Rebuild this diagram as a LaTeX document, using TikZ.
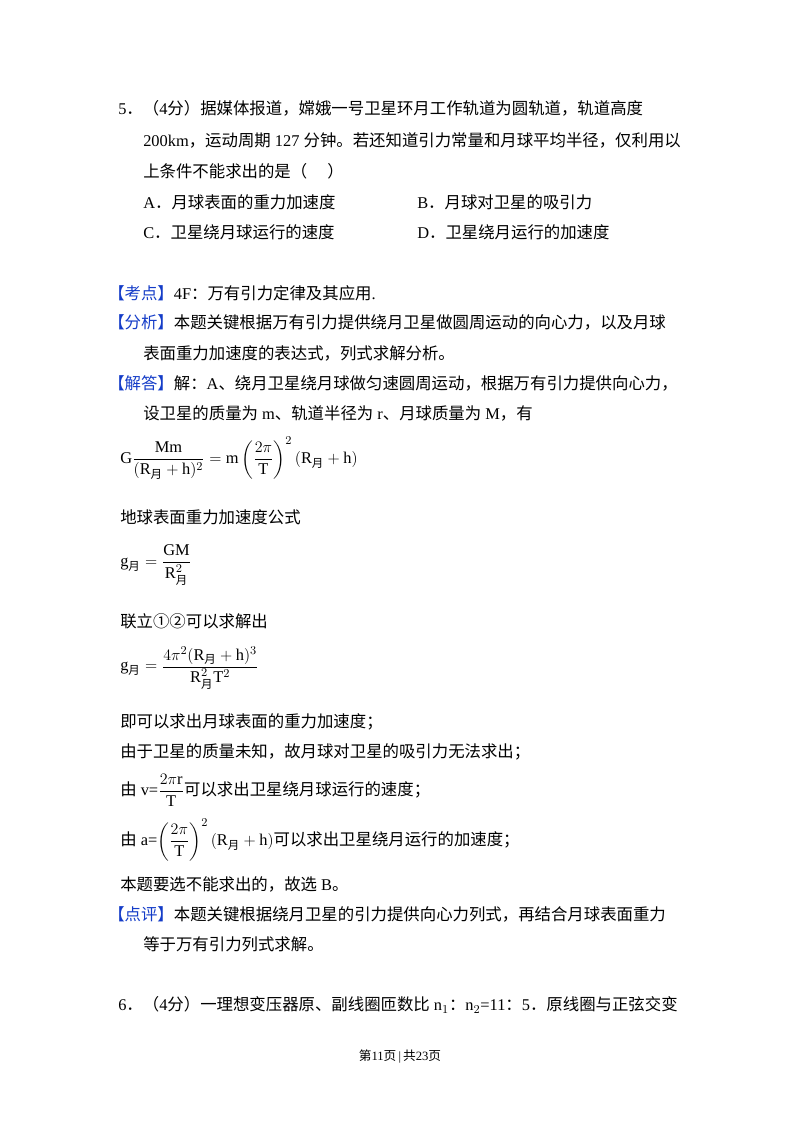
\documentclass[tikz,border=0pt]{standalone}
\usepackage{amsmath}
\usepackage{fontspec}
\setmainfont{Liberation Serif}
\newfontfamily\cn{Noto Sans CJK SC}
\definecolor{kb}{RGB}{20,60,200}
\newcommand{\yue}{\text{\cn 月}}
\newcommand{\kd}[1]{{\color{kb}\cn 【#1】}}
\begin{document}
\begin{tikzpicture}[x=0.75pt,y=-0.75pt,
  t/.style={anchor=west,inner sep=0pt,font=\fontsize{12.3}{14}\selectfont}]
\useasboundingbox[fill=white] (0,0) rectangle (800,1132);
\node[t] (l1) at (118,108) {5{\cn ．（}4{\cn 分）据媒体报道，嫦娥一号卫星环月工作轨道为圆轨道，轨道高度}};
\node[t] (l2) at (143,140) {200km{\cn ，运动周期} 127 {\cn 分钟。若还知道引力常量和月球平均半径，仅利用以}};
\node[t] (l3) at (143,171) {\cn 上条件不能求出的是（\quad\ ）};
\node[t] (a) at (143,202) {A{\cn ．月球表面的重力加速度}};
\node[t] (b) at (417,202) {B{\cn ．月球对卫星的吸引力}};
\node[t] (c) at (143,232) {C{\cn ．卫星绕月球运行的速度}};
\node[t] (d) at (417,232) {D{\cn ．卫星绕月运行的加速度}};
\node[t] (k1) at (108,293) {\kd{考点}4F{\cn ：万有引力定律及其应用}.};
\node[t] (k2) at (108,322) {\kd{分析}{\cn 本题关键根据万有引力提供绕月卫星做圆周运动的向心力，以及月球}};
\node[t] (k3) at (143,353) {\cn 表面重力加速度的表达式，列式求解分析。};
\node[t] (k4) at (108,383) {\kd{解答}{\cn 解：}A{\cn 、绕月卫星绕月球做匀速圆周运动，根据万有引力提供向心力，}};
\node[t] (k5) at (143,413) {{\cn 设卫星的质量为} m{\cn 、轨道半径为} r{\cn 、月球质量为} M{\cn ，有}};
\node[t] (f1) at (120,458) {$\mathrm{G}\dfrac{\mathrm{Mm}}{(\mathrm{R}_{\yue}+\mathrm{h})^{2}}=\mathrm{m}\left(\dfrac{2\pi}{\mathrm{T}}\right)^{2}(\mathrm{R}_{\yue}+\mathrm{h})$};
\node[t] (k6) at (120,517) {\cn 地球表面重力加速度公式};
\node[t] (f2) at (120,565) {$\mathrm{g}_{\yue}=\dfrac{\mathrm{GM}}{\mathrm{R}_{\yue}^{2}}$};
\node[t] (k7) at (120,621) {\cn 联立①②可以求解出};
\node[t] (f3) at (120,668) {$\mathrm{g}_{\yue}=\dfrac{4\pi^{2}(\mathrm{R}_{\yue}+\mathrm{h})^{3}}{\mathrm{R}_{\yue}^{2}\mathrm{T}^{2}}$};
\node[t] (k8) at (120,722) {\cn 即可以求出月球表面的重力加速度；};
\node[t] (k9) at (120,752) {\cn 由于卫星的质量未知，故月球对卫星的吸引力无法求出；};
\node[t] (k10) at (120,790) {{\cn 由} v=$\dfrac{2\pi\mathrm{r}}{\mathrm{T}}${\cn 可以求出卫星绕月球运行的速度；}};
\node[t] (k11) at (120,840) {{\cn 由} a=$\left(\dfrac{2\pi}{\mathrm{T}}\right)^{2}(\mathrm{R}_{\yue}+\mathrm{h})${\cn 可以求出卫星绕月运行的加速度；}};
\node[t] (k12) at (120,884) {{\cn 本题要选不能求出的，故选} B{\cn 。}};
\node[t] (k13) at (108,914) {\kd{点评}{\cn 本题关键根据绕月卫星的引力提供向心力列式，再结合月球表面重力}};
\node[t] (k14) at (143,944) {\cn 等于万有引力列式求解。};
\node[t] (l6) at (118,1005) {6{\cn ．（}4{\cn 分）一理想变压器原、副线圈匝数比} n$_1${\cn ：}n$_2$=11{\cn ：}5{\cn ．原线圈与正弦交变}};
\node[inner sep=0pt,font=\fontsize{9.5}{11}\selectfont] (ft) at (400,1057) {{\cn 第}11{\cn 页}\,|\,{\cn 共}23{\cn 页}};
\end{tikzpicture}
\end{document}
